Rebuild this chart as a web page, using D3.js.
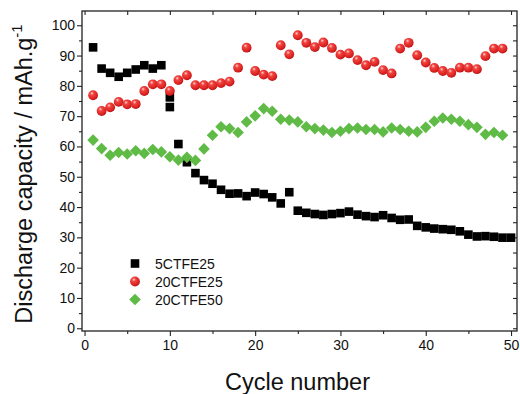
<!DOCTYPE html>
<html>
<head>
<meta charset="utf-8">
<script src="https://cdn.jsdelivr.net/npm/d3@7"></script>
<style>
  html, body { margin: 0; padding: 0; background: #fff; }
  svg { display: block; font-family: "Liberation Sans", Arial, sans-serif; }
</style>
</head>
<body>
<svg id="chart" width="520" height="394"></svg>
<script>
// ---- Data ----
const blackCycles = [1,2,3,4,5,6,7,8,9,10,10,11,12,13,14,15,16,17,18,19,20,21,22,23,24,25,26,27,28,29,30,31,32,33,34,35,36,37,38,39,40,41,42,43,44,45,46,47,48,49,50];
const blackValues = [92.7,85.7,84.3,83.0,84.3,85.4,86.8,85.7,86.8,76.2,73.0,60.8,54.8,51.2,48.9,47.7,45.7,44.4,44.5,43.6,44.8,44.3,43.2,41.2,44.9,38.8,38.1,37.7,37.4,37.7,38.0,38.5,37.5,37.0,36.7,37.3,36.4,35.8,35.9,33.8,33.3,32.9,32.7,32.5,32.0,30.9,30.3,30.4,30.2,29.9,29.9];

const redCycles = [1,2,3,4,5,6,7,8,9,10,11,12,13,14,15,16,17,18,19,20,21,22,23,24,25,26,27,28,29,30,31,32,33,34,35,36,37,38,39,40,41,42,43,44,45,46,47,48,49];
const redValues = [76.9,71.7,72.9,74.7,73.9,74.0,78.3,80.5,80.5,78.3,81.9,83.5,80.2,80.2,80.2,80.9,81.4,86.0,92.6,84.9,83.7,83.2,93.4,90.4,96.7,94.2,92.8,94.3,92.5,90.3,90.7,88.5,86.8,87.9,85.2,84.1,92.3,94.2,90.1,87.7,85.9,84.9,84.3,86.0,86.0,85.5,89.8,92.3,92.3];

const greenCycles = [1,2,3,4,5,6,7,8,9,10,11,12,13,14,15,16,17,18,19,20,21,22,23,24,25,26,27,28,29,30,31,32,33,34,35,36,37,38,39,40,41,42,43,44,45,46,47,48,49];
const greenValues = [62.1,59.3,57.1,58.0,57.5,58.6,57.7,59.0,58.2,56.6,55.5,56.4,55.4,59.2,63.7,66.5,65.9,64.6,68.1,70.1,72.5,71.6,69.0,68.7,68.1,66.5,65.9,65.4,64.6,65.0,65.9,66.1,65.6,65.6,64.8,66.1,65.6,65.0,64.8,66.3,68.3,69.4,69.0,68.3,67.2,66.3,64.0,64.6,63.7];

const seriesNames = ["5CTFE25", "20CTFE25", "20CTFE50"];
const xTicks = [0,10,20,30,40,50];
const yTicks = [0,10,20,30,40,50,60,70,80,90,100];
const xMinorTicks = [5,15,25,35,45];
const yMinorTicks = [5,15,25,35,45,55,65,75,85,95];
const xTitle = "Cycle number";
const yTitle = "Discharge capacity / mAh.g";
const yTitleSup = "-1";

// ---- Layout ----
const svg = d3.select("#chart");
const pL = 82, pR = 517, pT = 11, pB = 331;
const x = d3.scaleLinear().domain([-0.3, 50.7]).range([pL, pR]);
const y = d3.scaleLinear().domain([-0.9, 104.7]).range([pB, pT]);

// gradient for red spheres
const defs = svg.append("defs");
const grad = defs.append("radialGradient").attr("id", "redball")
  .attr("cx", "40%").attr("cy", "35%").attr("r", "65%").attr("fx", "38%").attr("fy", "30%");
grad.append("stop").attr("offset", "0%").attr("stop-color", "#ffd0d0");
grad.append("stop").attr("offset", "30%").attr("stop-color", "#f0443f");
grad.append("stop").attr("offset", "85%").attr("stop-color", "#d81e1e");
grad.append("stop").attr("offset", "100%").attr("stop-color", "#b31212");

const tickColor = "#222";

// Axes
const fontTick = 14;
const axB = svg.append("g").attr("transform", `translate(0,${pB})`)
  .call(d3.axisBottom(x).tickValues(xTicks).tickSize(5).tickSizeOuter(0).tickPadding(4).tickFormat(d3.format("d")));
const axBm = svg.append("g").attr("transform", `translate(0,${pB})`)
  .call(d3.axisBottom(x).tickValues(xMinorTicks).tickSize(3).tickSizeOuter(0).tickFormat(""));
const axL = svg.append("g").attr("transform", `translate(${pL},0)`)
  .call(d3.axisLeft(y).tickValues(yTicks).tickSize(5).tickSizeOuter(0).tickPadding(2).tickFormat(d3.format("d")));
const axLm = svg.append("g").attr("transform", `translate(${pL},0)`)
  .call(d3.axisLeft(y).tickValues(yMinorTicks).tickSize(3).tickSizeOuter(0).tickFormat(""));
const axT = svg.append("g").attr("transform", `translate(0,${pT})`)
  .call(d3.axisBottom(x).tickValues(xTicks.concat(xMinorTicks)).tickSize(4).tickSizeOuter(0).tickFormat(""));
const axR = svg.append("g").attr("transform", `translate(${pR},0)`)
  .call(d3.axisLeft(y).tickValues(yTicks.concat(yMinorTicks)).tickSize(4).tickSizeOuter(0).tickFormat(""));

[axB, axBm, axL, axLm, axT, axR].forEach(g => {
  g.select(".domain").remove();
  g.selectAll("line").attr("stroke", tickColor).attr("stroke-width", 1.1);
  g.selectAll("text").attr("font-size", fontTick).attr("fill", "#111")
    .attr("font-family", "'Liberation Sans', Arial, sans-serif");
});

// Frame
svg.append("rect").attr("x", pL).attr("y", pT)
  .attr("width", pR - pL).attr("height", pB - pT)
  .attr("fill", "none").attr("stroke", tickColor).attr("stroke-width", 1.3);

// ---- Markers ----
const sq = 8.6;
const black = blackCycles.map((c, i) => ({c, v: blackValues[i]}));
const red = redCycles.map((c, i) => ({c, v: redValues[i]}));
const green = greenCycles.map((c, i) => ({c, v: greenValues[i]}));

svg.append("g").selectAll("rect").data(black).join("rect")
  .attr("x", d => x(d.c) - sq / 2).attr("y", d => y(d.v) - sq / 2)
  .attr("width", sq).attr("height", sq).attr("fill", "#000");

svg.append("g").selectAll("circle").data(red).join("circle")
  .attr("cx", d => x(d.c)).attr("cy", d => y(d.v)).attr("r", 4.9)
  .attr("fill", "url(#redball)");

const dia = 5.8;
const diamondPath = `M0,${-dia}L${dia},0L0,${dia}L${-dia},0Z`;
svg.append("g").selectAll("path").data(green).join("path")
  .attr("transform", d => `translate(${x(d.c)},${y(d.v)})`)
  .attr("d", diamondPath).attr("fill", "#5fbb46");

// ---- Legend ----
const lg = svg.append("g");
const legY = [263.5, 281.5, 299.5];
const legX = 135;
lg.append("rect").attr("x", legX - sq / 2).attr("y", legY[0] - sq / 2).attr("width", sq).attr("height", sq).attr("fill", "#000");
lg.append("circle").attr("cx", legX).attr("cy", legY[1]).attr("r", 4.9).attr("fill", "url(#redball)");
lg.append("path").attr("transform", `translate(${legX},${legY[2]})`).attr("d", diamondPath).attr("fill", "#5fbb46");
seriesNames.forEach((n, i) => {
  lg.append("text").attr("x", 155).attr("y", legY[i] + 5).attr("font-size", 14).attr("fill", "#111").text(n);
});

// ---- Titles ----
svg.append("text").attr("x", (84.5 + 510.5) / 2).attr("y", 390)
  .attr("text-anchor", "middle").attr("font-size", 23.5).attr("fill", "#111").text(xTitle);

const yt = svg.append("text").attr("transform", `translate(32,174) rotate(-90)`)
  .attr("text-anchor", "middle").attr("font-size", 23.5).attr("fill", "#111");
yt.append("tspan").text(yTitle);
yt.append("tspan").attr("dy", -10).attr("font-size", 15).text(yTitleSup);
</script>
</body>
</html>
